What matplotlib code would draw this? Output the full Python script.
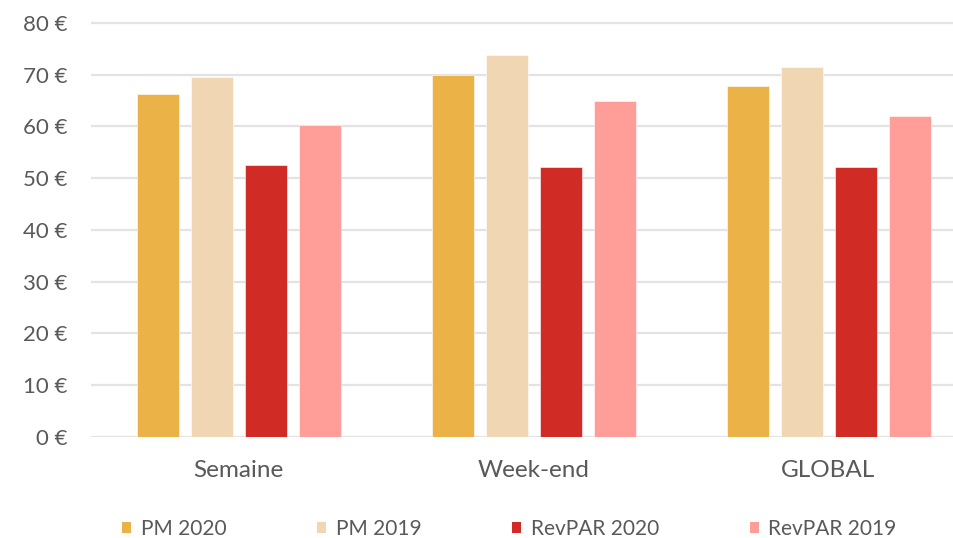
import matplotlib
matplotlib.use("Agg")
import matplotlib.pyplot as plt
from matplotlib.patches import Patch
import numpy as np

categories = ["Semaine", "Week-end", "GLOBAL"]
series_names = ["PM 2020", "PM 2019", "RevPAR 2020", "RevPAR 2019"]
pm_2020 = [66.3, 69.9, 67.9]
pm_2019 = [69.5, 73.8, 71.4]
revpar_2020 = [52.5, 52.1, 52.1]
revpar_2019 = [60.2, 64.9, 62.1]
colors = ["#EBB347", "#F1D6B4", "#D12B25", "#FF9D99"]
yticks = [0, 10, 20, 30, 40, 50, 60, 70, 80]
ytick_labels = [f"{v} €" for v in yticks]

plt.rcParams['font.family'] = ['Lato', 'DejaVu Sans']
text_color = "#595959"
grid_color = "#E3E3E3"

W, H = 954, 538
fig = plt.figure(figsize=(W / 100, H / 100), dpi=100)
px_per_unit = 5.17
ymax = 82
left_px, bottom_px = 91, 538 - 436.6
ax = fig.add_axes([left_px / W, bottom_px / H, 885 / W, ymax * px_per_unit / H])

x = np.arange(len(categories))
d = 54 / 295
bw = 42 / 295
all_series = [pm_2020, pm_2019, revpar_2020, revpar_2019]
for i, (vals, c) in enumerate(zip(all_series, colors)):
    ax.bar(x + (i - 1.5) * d, vals, width=bw, color=c, zorder=3,
           edgecolor="white", linewidth=0.4)

ax.set_xlim(-0.5, 2.5)
ax.set_ylim(0, ymax)
ax.set_yticks(yticks)
ax.set_yticklabels(ytick_labels)
ax.set_xticks(x)
ax.set_xticklabels(categories)
ax.tick_params(axis='y', length=0, pad=17, labelsize=16, labelcolor=text_color)
ax.tick_params(axis='x', length=0, pad=17, labelsize=17.5, labelcolor=text_color)
ax.grid(axis='y', color=grid_color, linewidth=1.6, zorder=0)
for s in ax.spines.values():
    s.set_visible(False)

handles = [Patch(facecolor=c, edgecolor='none') for c in colors]
leg = fig.legend(handles, series_names, loc='center left',
                 bbox_to_anchor=(122 / W, 1 - 529 / H), ncol=4, frameon=False,
                 fontsize=15, labelcolor=text_color, handlelength=0.45,
                 handleheight=0.45, handletextpad=0.45, columnspacing=4.35,
                 borderaxespad=0, borderpad=0)

fig.savefig("out.png", dpi=100)
